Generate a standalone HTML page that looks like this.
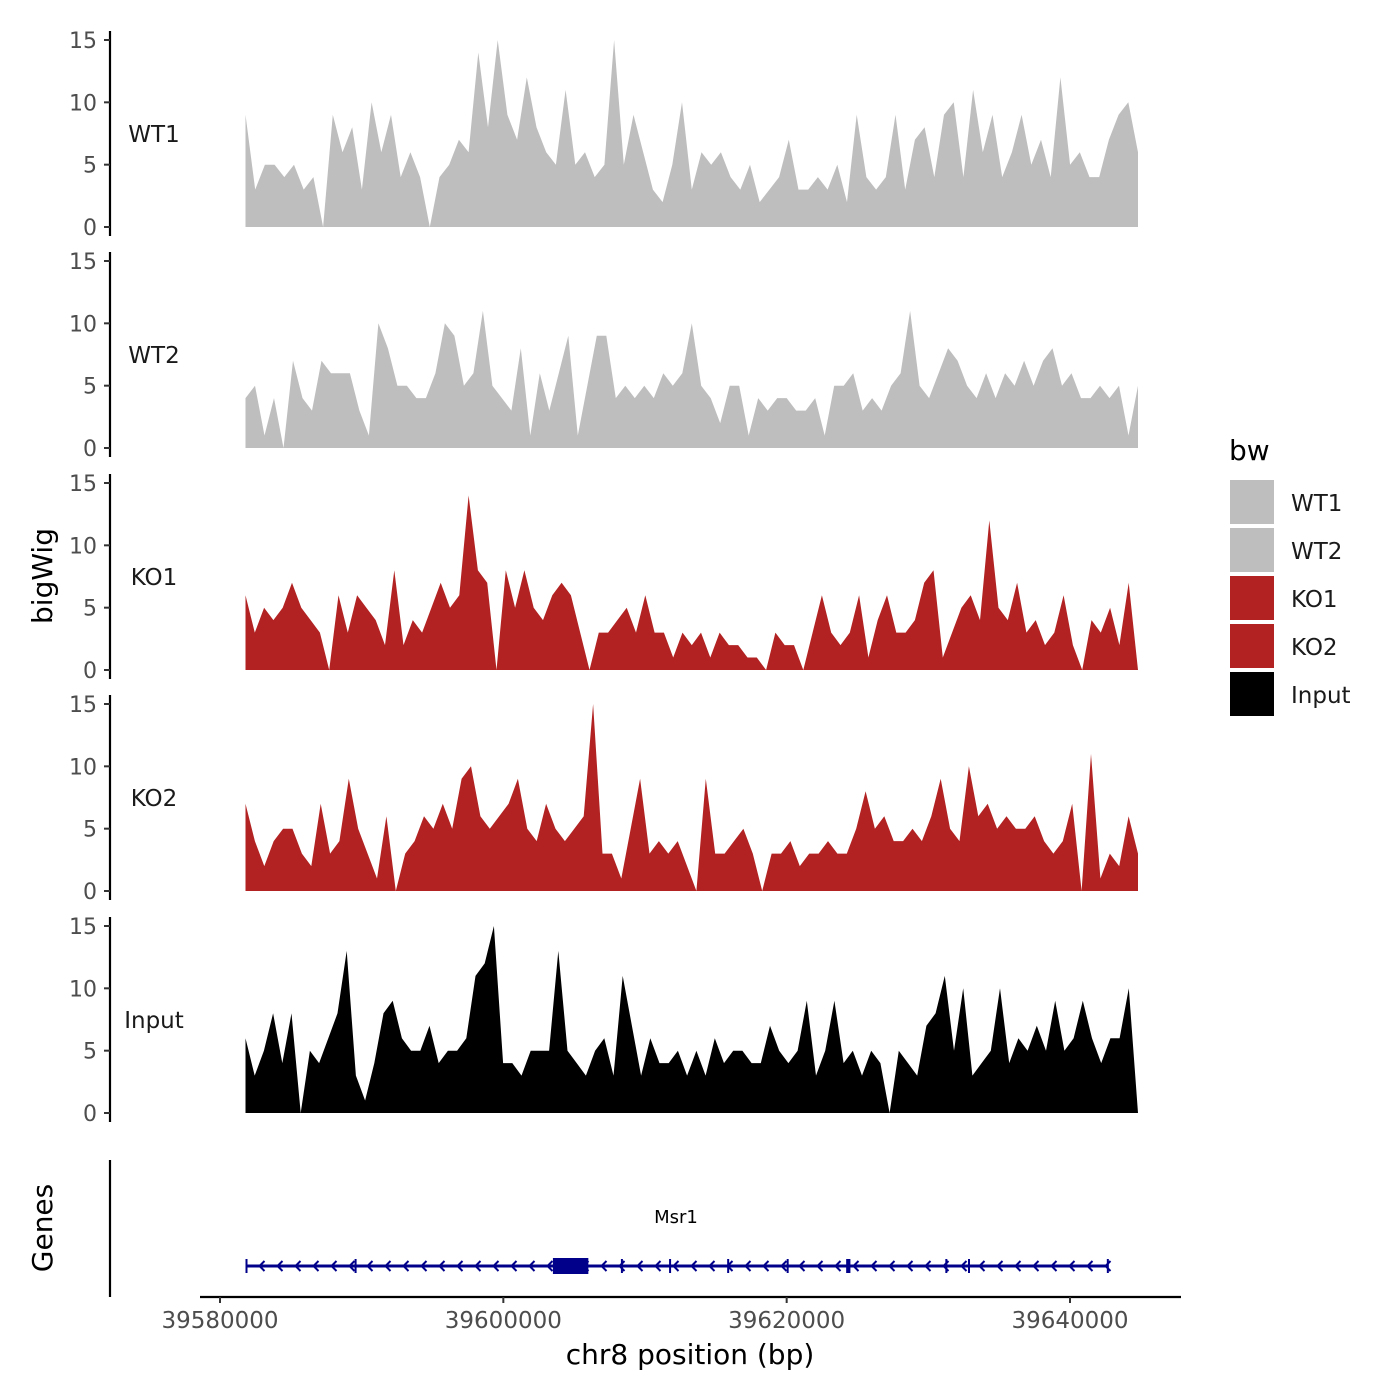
<!DOCTYPE html>
<html><head><meta charset="utf-8"><style>
body{margin:0;background:#fff}
svg{display:block;font-family:"DejaVu Sans","Liberation Sans",sans-serif}
</style></head><body>
<svg id="c" width="1400" height="1400" viewBox="0 0 1400 1400"></svg>
<script>
const trackNames=["WT1","WT2","KO1","KO2","Input"];
const trackColors=["#bebebe","#bebebe","#b22222","#b22222","#000000"];
const wt1=[9,3,5,5,4,5,3,4,0,9,6,8,3,10,6,9,4,6,4,0,4,5,7,6,14,8,15,9,7,12,8,6,5,11,5,6,4,5,15,5,9,6,3,2,5,10,3,6,5,6,4,3,5,2,3,4,7,3,3,4,3,5,2,9,4,3,4,9,3,7,8,4,9,10,4,11,6,9,4,6,9,5,7,4,12,5,6,4,4,7,9,10,6];
const wt2=[4,5,1,4,0,7,4,3,7,6,6,6,3,1,10,8,5,5,4,4,6,10,9,5,6,11,5,4,3,8,1,6,3,6,9,1,5,9,9,4,5,4,5,4,6,5,6,10,5,4,2,5,5,1,4,3,4,4,3,3,4,1,5,5,6,3,4,3,5,6,11,5,4,6,8,7,5,4,6,4,6,5,7,5,7,8,5,6,4,4,5,4,5,1,5];
const ko1=[6,3,5,4,5,7,5,4,3,0,6,3,6,5,4,2,8,2,4,3,5,7,5,6,14,8,7,0,8,5,8,5,4,6,7,6,3,0,3,3,4,5,3,6,3,3,1,3,2,3,1,3,2,2,1,1,0,3,2,2,0,3,6,3,2,3,6,1,4,6,3,3,4,7,8,1,3,5,6,4,12,5,4,7,3,4,2,3,6,2,0,4,3,5,2,7,0];
const ko2=[7,4,2,4,5,5,3,2,7,3,4,9,5,3,1,6,0,3,4,6,5,7,5,9,10,6,5,6,7,9,5,4,7,5,4,5,6,15,3,3,1,5,9,3,4,3,4,2,0,9,3,3,4,5,3,0,3,3,4,2,3,3,4,3,3,5,8,5,6,4,4,5,4,6,9,5,4,10,6,7,5,6,5,5,6,4,3,4,7,0,11,1,3,2,6,3];
const input=[6,3,5,8,4,8,0,5,4,6,8,13,3,1,4,8,9,6,5,5,7,4,5,5,6,11,12,15,4,4,3,5,5,5,13,5,4,3,5,6,3,11,7,3,6,4,4,5,3,5,3,6,4,5,5,4,4,7,5,4,5,9,3,5,9,4,5,3,5,4,0,5,4,3,7,8,11,5,10,3,4,5,10,4,6,5,7,5,9,5,6,9,6,4,6,6,10,0];
const trackValues=[wt1,wt2,ko1,ko2,input];
const yTicks=[0,5,10,15];
const xTicks=[39580000,39600000,39620000,39640000];
const dataStart=39581800, dataEnd=39644800;
const geneStart=39581800, geneEnd=39642600;
const exonStarts=[39581800,39589500,39603500,39608300,39611700,39615800,39620000,39624200,39631200,39632800,39642600];
const exonEnds=[39581900,39589600,39606000,39608400,39611800,39615900,39620100,39624500,39631300,39632900,39642700];

const NS="http://www.w3.org/2000/svg";
const svg=document.getElementById("c");
function mk(t,a,p){const e=document.createElementNS(NS,t);for(const k in a)e.setAttribute(k,a[k]);(p||svg).appendChild(e);return e;}
const xs=v=>220+(v-39580000)*(1070-220)/60000;
const panelTop=[40,261,483,704,926];
trackNames.forEach((nm,ti)=>{
  const y0=panelTop[ti]+187, ys=v=>y0-v*187/15;
  const g=mk("g",{});
  
  
  const vals=trackValues[ti], n=vals.length;
  let pts=xs(dataStart)+","+y0;
  vals.forEach((v,i)=>{const bp=dataStart+(dataEnd-dataStart)*i/(n-1);pts+=" "+xs(bp).toFixed(1)+","+ys(v).toFixed(1);});
  pts+=" "+xs(dataEnd)+","+y0;
  const a=mk("polygon",{points:pts,fill:trackColors[ti]},g);
  
  
  const ax=mk("line",{x1:110,x2:110,y1:ys(15)-9,y2:y0+9,stroke:"#000","stroke-width":2.2},g);
  
  
  yTicks.forEach(t=>{
    mk("line",{x1:104,x2:110,y1:ys(t),y2:ys(t),stroke:"#333","stroke-width":2},g);
    const tx=mk("text",{x:97,y:ys(t)+8,"text-anchor":"end","font-size":22,fill:"#4d4d4d"},g);
    tx.textContent=t;
    
    
  });
  const lb=mk("text",{x:154,y:panelTop[ti]+102,"text-anchor":"middle","font-size":23,fill:"#1a1a1a"},g);
  lb.textContent=nm;
  
  
});
const gg=mk("g",{});


mk("line",{x1:110,x2:110,y1:1160,y2:1297,stroke:"#000","stroke-width":2.2},gg);
mk("line",{x1:xs(geneStart),x2:xs(geneEnd),y1:1266,y2:1266,stroke:"#00008b","stroke-width":3},gg);
for(let x=xs(geneStart)+14;x<xs(geneEnd);x+=18){mk("polyline",{points:`${x+5},1261 ${x},1266 ${x+5},1271`,fill:"none",stroke:"#00008b","stroke-width":2},gg);}
exonStarts.forEach((s,i)=>{const w=Math.max(2,xs(exonEnds[i])-xs(s));const h=w>10?16:14;const r=mk("rect",{x:xs(s),y:1266-h/2,width:w,height:h,fill:"#00008b"},gg);
  
  });
const gl=mk("text",{x:676,y:1223,"text-anchor":"middle","font-size":18,fill:"#000"},gg);gl.textContent="Msr1";


const xa=mk("g",{});


mk("line",{x1:200,x2:1181,y1:1297,y2:1297,stroke:"#000","stroke-width":2.2},xa);
xTicks.forEach(t=>{mk("line",{x1:xs(t),x2:xs(t),y1:1297,y2:1303,stroke:"#333","stroke-width":2},xa);
  const tx=mk("text",{x:xs(t),y:1328,"text-anchor":"middle","font-size":23,fill:"#4d4d4d"},xa);tx.textContent=t;
  
  });
const xt=mk("text",{x:690,y:1364,"text-anchor":"middle","font-size":28,fill:"#000"});xt.textContent="chr8 position (bp)";


const yt=mk("text",{x:0,y:0,"text-anchor":"middle","font-size":28,fill:"#000",transform:"translate(52,576) rotate(-90)"});yt.textContent="bigWig";


const gt=mk("text",{x:0,y:0,"text-anchor":"middle","font-size":28,fill:"#000",transform:"translate(52,1228) rotate(-90)"});gt.textContent="Genes";


const lg=mk("g",{});


const lt=mk("text",{x:1229,y:460,"font-size":28,fill:"#000"},lg);lt.textContent="bw";
trackNames.forEach((nm,i)=>{
  const y=480+i*48;
  const r=mk("rect",{x:1230,y:y,width:44,height:44,fill:trackColors[i]},lg);
  
  
  const t=mk("text",{x:1291,y:y+31,"font-size":23,fill:"#1a1a1a"},lg);t.textContent=nm;
  
  
});
</script>
</body></html>
